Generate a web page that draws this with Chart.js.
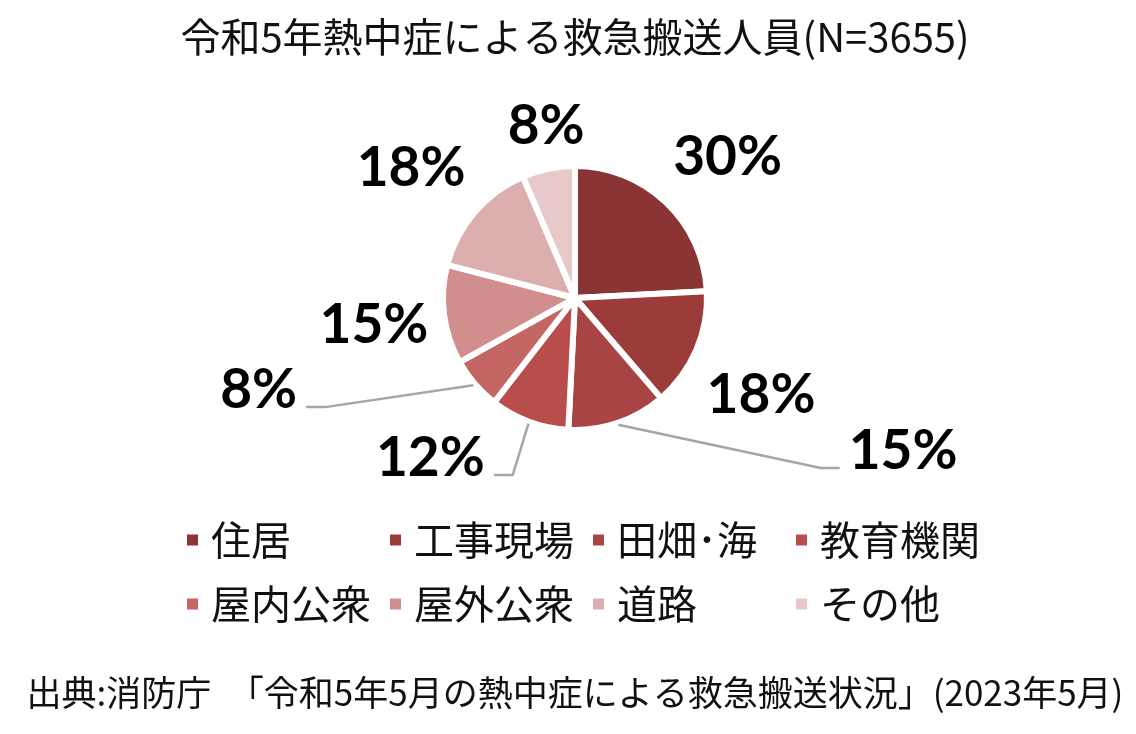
<!DOCTYPE html>
<html lang="ja">
<head>
<meta charset="utf-8">
<title>令和5年熱中症による救急搬送人員</title>
<script src="https://cdn.jsdelivr.net/npm/chart.js@4.4.1/dist/chart.umd.min.js"></script>
<style>
  html, body { margin: 0; padding: 0; background: #ffffff; }
  #wrap { width: 1136px; height: 734px; position: relative; }
</style>
</head>
<body>
<div id="wrap"><canvas id="c"></canvas></div>
<script>
// 発生場所別の搬送人員割合（%）
const categories = ['住居', '工事現場', '田畑･海', '教育機関', '屋内公衆', '屋外公衆', '道路', 'その他'];
const percentValues = [30, 18, 15, 12, 8, 15, 18, 8];
const sliceColors = ['#8a3433', '#9b3c3b', '#a84443', '#b94d4b', '#c46664', '#d08e8d', '#dcaeae', '#e7c9c9'];
const titleText = '令和5年熱中症による救急搬送人員(N=3655)';
const sourceText = '出典:消防庁　「令和5年5月の熱中症による救急搬送状況」(2023年5月)';

const JP_FONT = '"Noto Sans CJK JP", "Noto Sans", sans-serif';

// ラベル配置：中心からの距離（半径比）と角度（真上から時計回り、度）
const labelPlacement = [
  { dist: 1.62, angle: 46.9 },
  { dist: 1.62, angle: 117.1 },
  { dist: 2.80, angle: 114.7, leader: true },
  { dist: 1.66, angle: 222.5, leader: true },
  { dist: 2.55, angle: 254.1, leader: true },
  { dist: 1.57, angle: 263.0 },
  { dist: 1.63, angle: 308.8 },
  { dist: 1.37, angle: 350.6 }
];

// 各扇形の外側に「xx%」を描き、必要なものには引き出し線を付ける
const sliceLabels = {
  id: 'sliceLabels',
  afterDatasetsDraw(chart, args, opts) {
    const ctx = chart.ctx;
    const ds = chart.data.datasets[0];
    const meta = chart.getDatasetMeta(0);
    ctx.save();
    ctx.font = opts.font;
    ctx.textAlign = 'center';
    ctx.textBaseline = 'alphabetic';
    meta.data.forEach((arc, i) => {
      const p = arc.getProps(['x', 'y', 'startAngle', 'endAngle', 'outerRadius'], true);
      const r = p.outerRadius - ds.borderWidth / 2;
      const place = opts.placement[i];
      const text = ds.data[i] + '%';
      const m = ctx.measureText(text);
      const w = m.width;
      const asc = m.actualBoundingBoxAscent;
      const desc = m.actualBoundingBoxDescent;
      const a = place.angle * Math.PI / 180;
      const cx = p.x + Math.sin(a) * place.dist * r;
      const cy = p.y - Math.cos(a) * place.dist * r;
      const baseY = cy + (asc - desc) / 2;

      if (place.leader) {
        const mid = (p.startAngle + p.endAngle) / 2;
        const sx = p.x + Math.cos(mid) * (r + 5);
        const sy = p.y + Math.sin(mid) * (r + 5);
        const side = cx > sx ? 1 : -1;
        const ly = baseY + desc - 1;
        const endX = cx - side * (w / 2 + opts.leaderGap);
        const elbowX = endX - side * opts.leaderRun;
        ctx.beginPath();
        ctx.moveTo(sx, sy);
        ctx.lineTo(elbowX, ly);
        ctx.lineTo(endX, ly);
        ctx.strokeStyle = opts.leaderColor;
        ctx.lineWidth = opts.leaderWidth;
        ctx.lineJoin = 'round';
        ctx.stroke();
      }
      ctx.fillStyle = opts.color;
      ctx.fillText(text, cx, baseY);
    });
    ctx.restore();
  }
};

// 凡例を4列の格子状に並べる
const gridLegend = {
  id: 'gridLegend',
  afterDraw(chart, args, opts) {
    const ctx = chart.ctx;
    const ds = chart.data.datasets[0];
    ctx.save();
    ctx.font = opts.font;
    ctx.textAlign = 'left';
    ctx.textBaseline = 'middle';
    chart.data.labels.forEach((lab, i) => {
      const col = i % opts.columns;
      const row = Math.floor(i / opts.columns);
      const x = opts.left + col * opts.colWidth;
      const y = opts.top + row * opts.rowHeight;
      ctx.fillStyle = ds.backgroundColor[i];
      ctx.fillRect(x, y - opts.box / 2, opts.box, opts.box);
      ctx.fillStyle = opts.color;
      ctx.fillText(lab, x + opts.box + opts.gap, y);
    });
    ctx.restore();
  }
};

new Chart(document.getElementById('c'), {
  type: 'pie',
  data: {
    labels: categories,
    datasets: [{
      data: percentValues,
      backgroundColor: sliceColors,
      borderColor: '#ffffff',
      borderWidth: 6,
      hoverOffset: 0
    }]
  },
  options: {
    responsive: true,
    maintainAspectRatio: false,
    animation: false,
    events: [],
    layout: { padding: { left: 14, right: 0, top: 0, bottom: 0 } },
    plugins: {
      legend: { display: false },
      tooltip: { enabled: false },
      title: {
        display: true,
        text: titleText,
        color: '#111111',
        font: { family: JP_FONT, size: 40, weight: 'normal', lineHeight: 1.2 },
        padding: { top: 13, bottom: 102 }
      },
      subtitle: {
        display: true,
        position: 'bottom',
        text: sourceText,
        color: '#111111',
        font: { family: JP_FONT, size: 35, weight: 'normal', lineHeight: 1.2 },
        padding: { top: 239, bottom: 20 }
      },
      sliceLabels: {
        font: 'bold 55px Lato, "Open Sans", sans-serif',
        color: '#000000',
        placement: labelPlacement,
        leaderColor: '#a6a6a6',
        leaderWidth: 2.5,
        leaderGap: 9,
        leaderRun: 19
      },
      gridLegend: {
        font: '40px ' + JP_FONT,
        color: '#111111',
        columns: 4,
        left: 187,
        top: 540,
        colWidth: 203,
        rowHeight: 64,
        box: 11,
        gap: 13
      }
    }
  },
  plugins: [sliceLabels, gridLegend]
});
</script>
</body>
</html>
